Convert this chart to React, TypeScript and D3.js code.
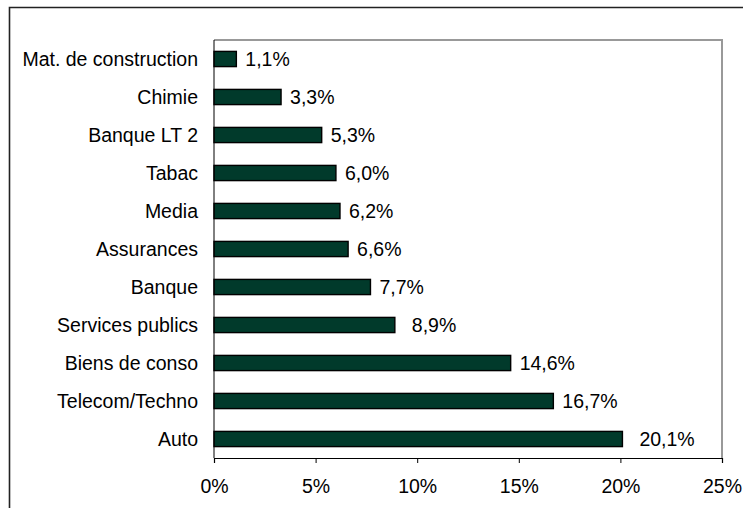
import { useEffect, useRef } from "react";
import * as d3 from "d3";

const categories = [
  "Mat. de construction",
  "Chimie",
  "Banque LT 2",
  "Tabac",
  "Media",
  "Assurances",
  "Banque",
  "Services publics",
  "Biens de conso",
  "Telecom/Techno",
  "Auto",
];
const values = [1.1, 3.3, 5.3, 6.0, 6.2, 6.6, 7.7, 8.9, 14.6, 16.7, 20.1];
const xTicks = [0, 5, 10, 15, 20, 25];
// a couple of labels sit further out from their bar in the original
const wideLabels = ["Services publics", "Auto"];

const W = 743;
const H = 508;
const FONT = "Arial, 'Liberation Sans', Helvetica, sans-serif";
const FS = 19.5;

export default function App() {
  const ref = useRef<SVGSVGElement | null>(null);

  useEffect(() => {
    if (!ref.current) return;
    const svg = d3.select(ref.current);
    svg.selectAll("*").remove();

    const left = 214;
    const right = 722;
    const top = 40;
    const bottom = 458;

    const x = d3.scaleLinear().domain([0, 25]).range([left, right]);
    const y = d3
      .scaleBand<string>()
      .domain(categories)
      .range([top, bottom])
      .paddingInner(0.6)
      .paddingOuter(0.3);

    svg.append("rect").attr("width", W).attr("height", H).attr("fill", "#fff");

    // outer chart frame (top + left only visible)
    svg
      .append("path")
      .attr("d", `M9.5,${H} V7.5 H${W}`)
      .attr("fill", "none")
      .attr("stroke", "#222")
      .attr("stroke-width", 1.6);

    // plot area border (grey top & right)
    svg
      .append("path")
      .attr("d", `M${left},${top} H${right} V${bottom}`)
      .attr("fill", "none")
      .attr("stroke", "#999")
      .attr("stroke-width", 2);

    const rows = categories.map((c, i) => ({ c, v: values[i] }));

    svg
      .append("g")
      .selectAll("rect")
      .data(rows)
      .join("rect")
      .attr("x", x(0))
      .attr("y", (d) => y(d.c)!)
      .attr("width", (d) => x(d.v) - x(0))
      .attr("height", y.bandwidth())
      .attr("fill", "#013a2b")
      .attr("stroke", "#000")
      .attr("stroke-width", 1.4);

    // value labels
    svg
      .append("g")
      .selectAll("text")
      .data(rows)
      .join("text")
      .attr("x", (d) => x(d.v) + (wideLabels.includes(d.c) ? 17 : 9))
      .attr("y", (d) => y(d.c)! + y.bandwidth() / 2)
      .attr("dy", "0.36em")
      .attr("font-family", FONT)
      .attr("font-size", FS)
      .attr("fill", "#000")
      .text((d) => d.v.toFixed(1).replace(".", ",") + "%");

    // category labels
    svg
      .append("g")
      .selectAll("text")
      .data(categories)
      .join("text")
      .attr("x", 198)
      .attr("y", (d) => y(d)! + y.bandwidth() / 2)
      .attr("dy", "0.36em")
      .attr("text-anchor", "end")
      .attr("font-family", FONT)
      .attr("font-size", FS)
      .attr("fill", "#000")
      .text((d) => d);

    // left axis
    svg
      .append("line")
      .attr("x1", left)
      .attr("x2", left)
      .attr("y1", top)
      .attr("y2", bottom)
      .attr("stroke", "#000")
      .attr("stroke-width", 1);

    // bottom axis
    const ax = svg
      .append("g")
      .attr("transform", `translate(0,${bottom})`)
      .call(
        d3
          .axisBottom(x)
          .tickValues(xTicks)
          .tickSize(5)
          .tickPadding(16)
          .tickFormat((d) => `${d}%`)
      );
    ax.select(".domain").attr("stroke", "#000").attr("stroke-width", 1.2);
    ax.selectAll(".tick line").attr("stroke", "#000");
    ax.selectAll(".tick text")
      .attr("font-family", FONT)
      .attr("font-size", FS)
      .attr("fill", "#000");
  }, []);

  return (
    <svg
      ref={ref}
      width={W}
      height={H}
      style={{ position: "absolute", left: 0, top: 0, display: "block" }}
    />
  );
}
